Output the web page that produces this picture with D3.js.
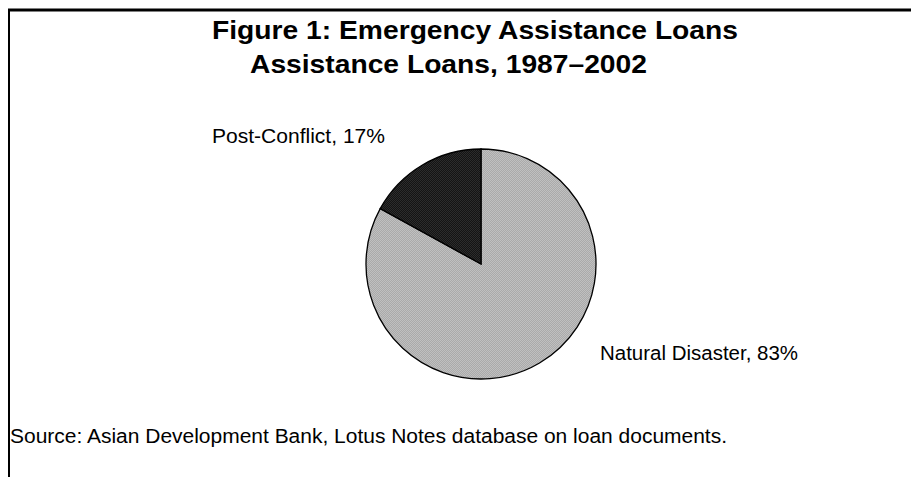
<!DOCTYPE html>
<html>
<head>
<meta charset="utf-8">
<script src="https://cdn.jsdelivr.net/npm/d3@7"></script>
<style>
  body { margin: 0; background: #fff; }
  svg text { font-family: "Liberation Sans", Arial, sans-serif; fill: #000; }
</style>
</head>
<body>
<script>
const categories = ["Natural Disaster", "Post-Conflict"];
const shares = [83, 17];
const sliceColors = [["#c0c0c0", "#aaaaaa"], ["#2c2c2c", "#141414"]];
const titleLines = ["Figure 1: Emergency Assistance Loans", "Assistance Loans, 1987\u20132002"];
const sourceNote = "Source: Asian Development Bank, Lotus Notes database on loan documents.";

const width = 911, height = 477;

const svg = d3.select("body").append("svg")
    .attr("width", width)
    .attr("height", height);

// little dotted fills like the original print
const defs = svg.append("defs");
sliceColors.forEach((c, i) => {
    const p = defs.append("pattern")
        .attr("id", "fill" + i)
        .attr("patternUnits", "userSpaceOnUse")
        .attr("width", 2).attr("height", 2);
    p.append("rect").attr("width", 2).attr("height", 2).attr("fill", c[0]);
    p.append("rect").attr("width", 1).attr("height", 1).attr("fill", c[1]);
    p.append("rect").attr("x", 1).attr("y", 1).attr("width", 1).attr("height", 1).attr("fill", c[1]);
});

// frame: top and left rule only
svg.append("line")
    .attr("x1", 8).attr("x2", width)
    .attr("y1", 10).attr("y2", 10)
    .attr("stroke", "#000").attr("stroke-width", 3);
svg.append("line")
    .attr("x1", 9).attr("x2", 9)
    .attr("y1", 9).attr("y2", height)
    .attr("stroke", "#000").attr("stroke-width", 2);

// title: first line is stretched a bit wider than the font, second follows the same ratio
const t1 = svg.append("text")
    .attr("x", 212).attr("y", 39)
    .style("font-size", "25px").style("font-weight", "bold")
    .text(titleLines[0]);
const ratio = 526 / t1.node().getComputedTextLength();
t1.attr("textLength", 526).attr("lengthAdjust", "spacingAndGlyphs");

const t2 = svg.append("text")
    .attr("x", 250).attr("y", 73)
    .style("font-size", "25px").style("font-weight", "bold")
    .text(titleLines[1]);
t2.attr("textLength", t2.node().getComputedTextLength() * ratio)
    .attr("lengthAdjust", "spacingAndGlyphs");

const cx = 481, cy = 264, radius = 115;

const pie = d3.pie().sort(null).value(d => d.value);
const arc = d3.arc().innerRadius(0).outerRadius(radius);

const data = categories.map((c, i) => ({ name: c, value: shares[i], idx: i }));

const g = svg.append("g").attr("transform", `translate(${cx},${cy})`);

g.selectAll("path")
    .data(pie(data))
    .enter()
    .append("path")
    .attr("d", arc)
    .attr("fill", d => `url(#fill${d.data.idx})`)
    .attr("stroke", "#000")
    .attr("stroke-width", 1.3);

// slice labels
const labelPos = [
    { x: 600, y: 360, len: 198 },
    { x: 212, y: 143, len: 173 }
];
svg.selectAll(".lbl")
    .data(data)
    .enter()
    .append("text")
    .attr("class", "lbl")
    .attr("x", (d, i) => labelPos[i].x)
    .attr("y", (d, i) => labelPos[i].y)
    .attr("textLength", (d, i) => labelPos[i].len)
    .attr("lengthAdjust", "spacingAndGlyphs")
    .style("font-size", "20px")
    .text(d => `${d.name}, ${d.value}%`);

svg.append("text")
    .attr("x", 10)
    .attr("y", 443)
    .style("font-size", "20px")
    .attr("textLength", 717)
    .attr("lengthAdjust", "spacingAndGlyphs")
    .text(sourceNote);
</script>
</body>
</html>
